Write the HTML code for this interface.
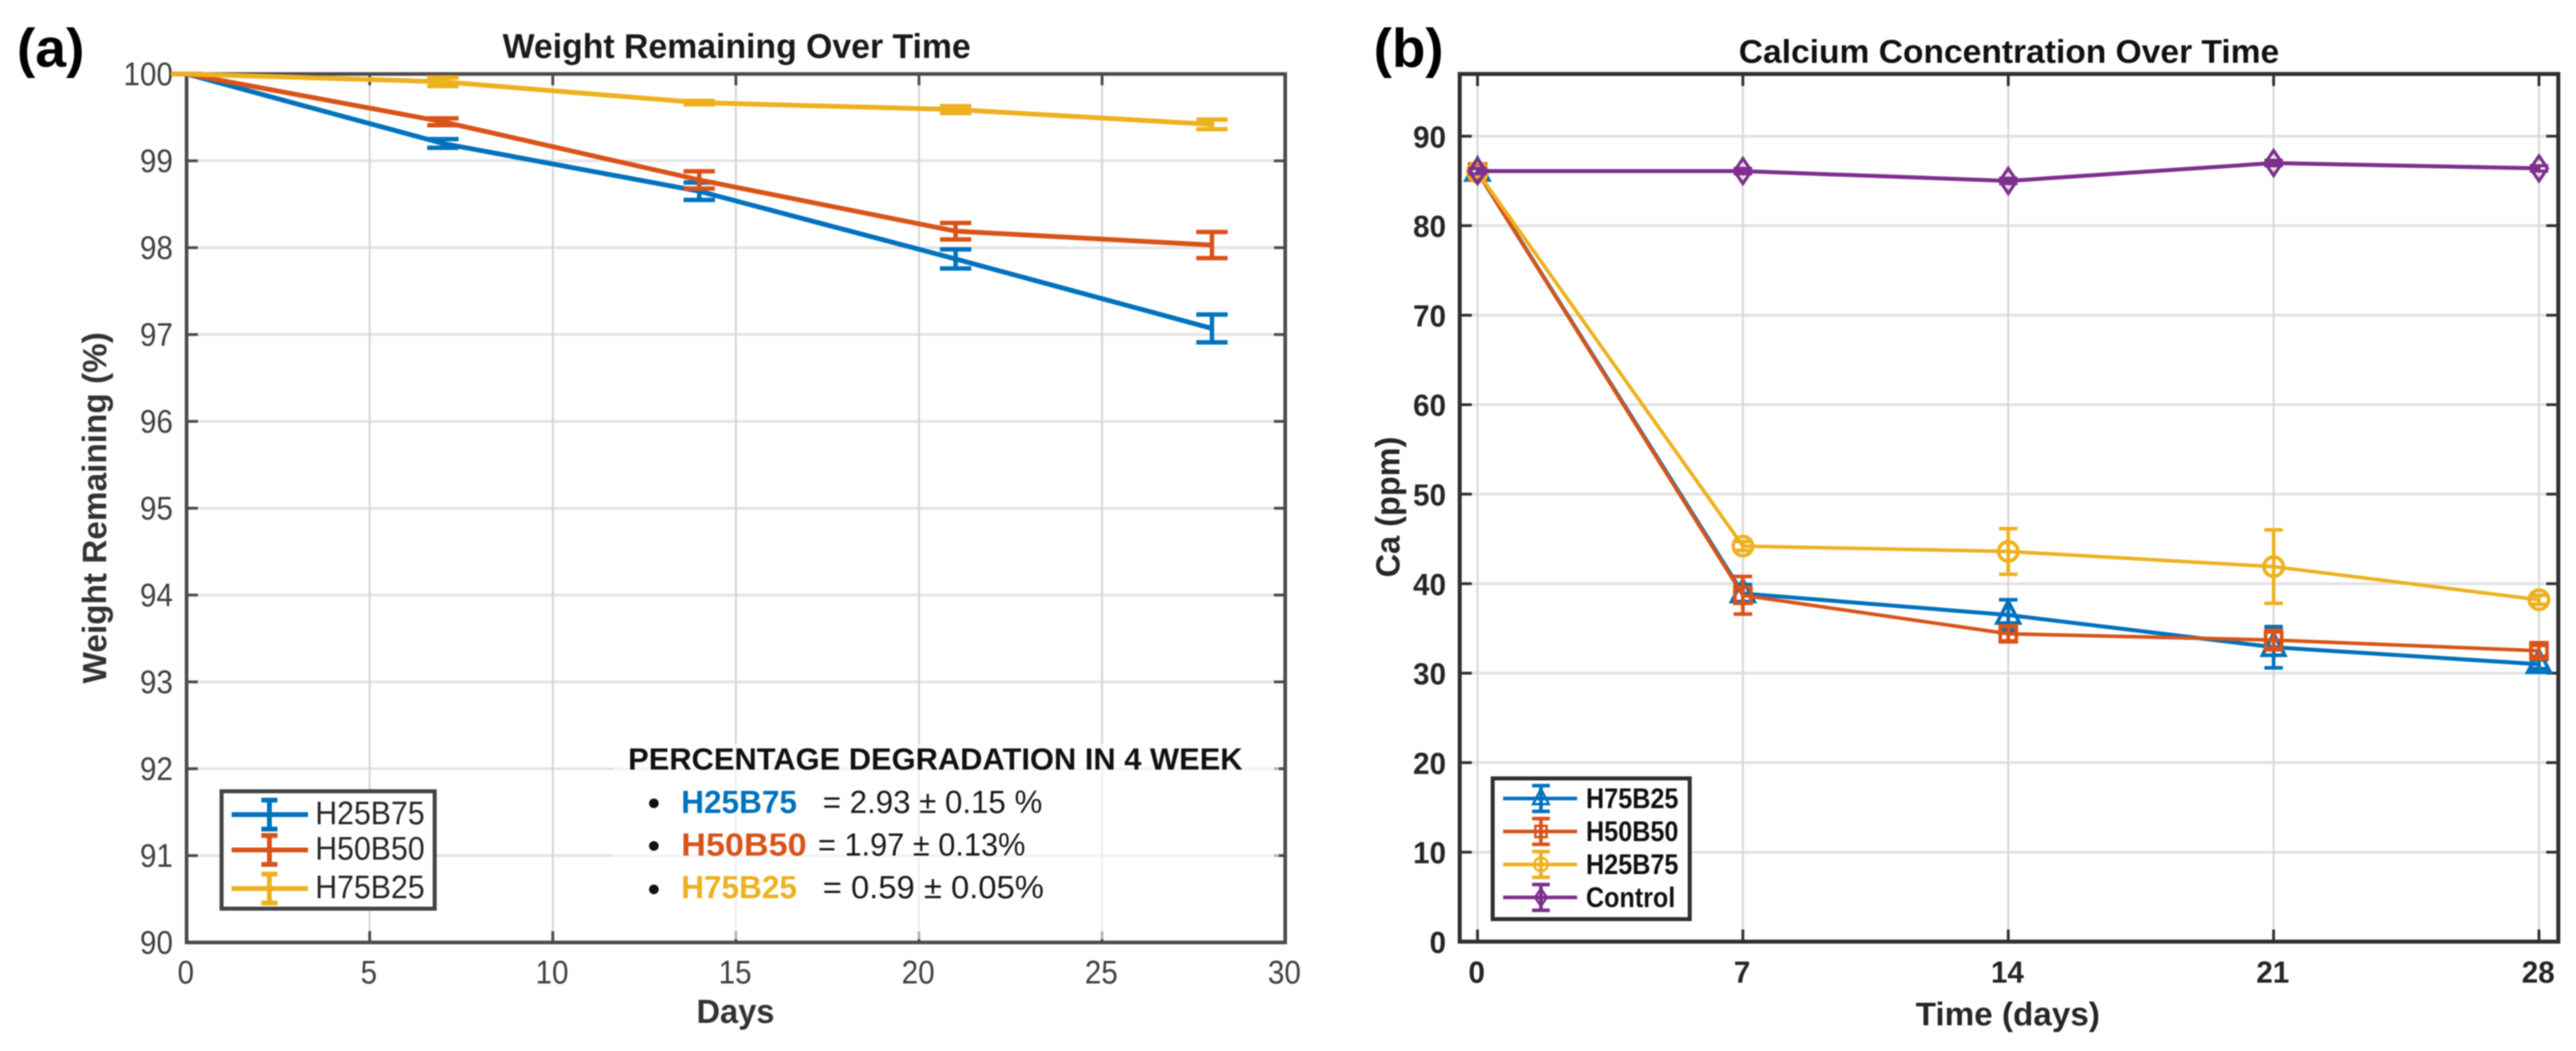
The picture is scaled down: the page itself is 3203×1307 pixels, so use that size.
<!DOCTYPE html>
<html lang="en">
<head>
<meta charset="utf-8">
<title>Weight Remaining and Calcium Concentration Over Time</title>
<style>
html,body{margin:0;padding:0;background:#fff;}
body{width:3203px;height:1307px;overflow:hidden;}
svg{display:block;filter:blur(0.9px);font-family:"Liberation Sans",Arial,sans-serif;}
</style>
</head>
<body>
<svg id="figure" xmlns="http://www.w3.org/2000/svg" width="3203" height="1307" viewBox="0 0 3203 1307">
  <rect width="3203" height="1307" fill="#fff"/>
  <g id="panelA"></g>
  <g id="panelB"></g>

  <text x="21" y="83" font-size="68" font-weight="bold" fill="#000" textLength="84" lengthAdjust="spacingAndGlyphs">(a)</text>
  <text x="1708" y="83" font-size="68" font-weight="bold" fill="#000" textLength="87" lengthAdjust="spacingAndGlyphs">(b)</text>

  <text x="625" y="72" font-size="43" font-weight="bold" fill="#1a1a1a" textLength="582" lengthAdjust="spacingAndGlyphs">Weight Remaining Over Time</text>
  <text x="866" y="1272" font-size="42" font-weight="bold" fill="#333" textLength="97" lengthAdjust="spacingAndGlyphs">Days</text>
  <text transform="translate(132 850) rotate(-90)" font-size="42" font-weight="bold" fill="#333" textLength="437" lengthAdjust="spacingAndGlyphs">Weight Remaining (%)</text>

  <text x="2162" y="78" font-size="41" font-weight="bold" fill="#111" textLength="672" lengthAdjust="spacingAndGlyphs">Calcium Concentration Over Time</text>
  <text x="2382" y="1275" font-size="41" font-weight="bold" fill="#262626" textLength="229" lengthAdjust="spacingAndGlyphs">Time (days)</text>
  <text transform="translate(1740 718) rotate(-90)" font-size="42" font-weight="bold" fill="#262626" textLength="175" lengthAdjust="spacingAndGlyphs">Ca (ppm)</text>

  <g>
    <rect x="763" y="925" width="827" height="243" fill="#fff" fill-opacity="0.6"/>
    <text x="781" y="957" font-size="38" font-weight="bold" fill="#111" textLength="764" lengthAdjust="spacingAndGlyphs">PERCENTAGE DEGRADATION IN 4 WEEK</text>
    <circle cx="813" cy="999" r="6" fill="#111"/>
    <text x="847" y="1011" font-size="40" font-weight="bold" fill="#0072BD" textLength="144" lengthAdjust="spacingAndGlyphs">H25B75</text>
    <text x="1023" y="1011" font-size="40" fill="#1a1a1a" textLength="273" lengthAdjust="spacingAndGlyphs">= 2.93 ± 0.15 %</text>
    <circle cx="813" cy="1052" r="6" fill="#111"/>
    <text x="847" y="1064" font-size="40" font-weight="bold" fill="#D95319" textLength="156" lengthAdjust="spacingAndGlyphs">H50B50</text>
    <text x="1017" y="1064" font-size="40" fill="#1a1a1a" textLength="258" lengthAdjust="spacingAndGlyphs">= 1.97 ± 0.13%</text>
    <circle cx="813" cy="1106" r="6" fill="#111"/>
    <text x="847" y="1117" font-size="40" font-weight="bold" fill="#EDB120" textLength="144" lengthAdjust="spacingAndGlyphs">H75B25</text>
    <text x="1023" y="1117" font-size="40" fill="#1a1a1a" textLength="275" lengthAdjust="spacingAndGlyphs">= 0.59 ± 0.05%</text>
  </g>
</svg>

<script>
// ---------- Panel (a) data ----------
const weightDays = [0, 7, 14, 21, 28];
const weightH25B75 = [100, 99.2, 98.65, 97.87, 97.07];
const weightH25B75Err = [0, 0.05, 0.1, 0.11, 0.16];
const weightH50B50 = [100, 99.45, 98.78, 98.19, 98.03];
const weightH50B50Err = [0, 0.04, 0.1, 0.095, 0.15];
const weightH75B25 = [100, 99.91, 99.67, 99.59, 99.42];
const weightH75B25Err = [0, 0.05, 0.02, 0.04, 0.055];
const weightXTicks = [0, 5, 10, 15, 20, 25, 30];
const weightYTicks = [90, 91, 92, 93, 94, 95, 96, 97, 98, 99, 100];
const weightXRange = [0, 30];
const weightYRange = [90, 100];
const weightLegend = ['H25B75', 'H50B50', 'H75B25'];

// ---------- Panel (b) data ----------
const calciumDays = [0, 7, 14, 21, 28];
const calciumH75B25 = [86, 38.9, 36.5, 32.9, 31];
const calciumH75B25Err = [0.4, 1, 1.7, 2.3, 0.5];
const calciumH50B50 = [86, 38.7, 34.4, 33.7, 32.5];
const calciumH50B50Err = [0.4, 2.1, 0.8, 1.1, 0.6];
const calciumH25B75 = [86, 44.2, 43.6, 41.9, 38.2];
const calciumH25B75Err = [0.4, 0.5, 2.55, 4.1, 0.5];
const calciumControl = [86.1, 86.1, 85, 87, 86.4];
const calciumControlErr = [0.3, 0.3, 0.3, 0.3, 0.3];
const calciumXTicks = [0, 7, 14, 21, 28];
const calciumYTicks = [0, 10, 20, 30, 40, 50, 60, 70, 80, 90];
const calciumXRange = [-0.47, 28.51];
const calciumYRange = [0, 96.95];
const calciumLegend = ['H75B25', 'H50B50', 'H25B75', 'Control'];

const BLUE = '#0072BD', ORANGE = '#D95319', YELLOW = '#EDB120', PURPLE = '#7E2F8E';
const NS = 'http://www.w3.org/2000/svg';

function mk(parent, tag, props, text) {
  const el = document.createElementNS(NS, tag);
  for (const k in props) el.setAttribute(k, props[k]);
  if (text !== undefined) el.textContent = text;
  parent.appendChild(el);
  return el;
}
function scale(domain, range) {
  return v => range[0] + (v - domain[0]) * (range[1] - range[0]) / (domain[1] - domain[0]);
}
function pts(xs, ys, xf, yf) {
  return xs.map((d, i) => xf(d) + ',' + yf(ys[i])).join(' ');
}

// Axis functions
const xA = scale(weightXRange, [232, 1598]);
const yA = scale(weightYRange, [1172, 92]);
const xB = scale(calciumXRange, [1815, 3181]);
const yB = scale(calciumYRange, [1171, 92]);

function drawMarker(g, kind, cx, cy, color, sw, k, nm) {
  const base = {fill: 'none', stroke: color, 'stroke-width': sw};
  let m;
  if (kind === 'triangle') {
    m = mk(g, 'polygon', Object.assign({points: `${cx},${cy - 17 * k} ${cx + 14 * k},${cy + 10 * k} ${cx - 14 * k},${cy + 10 * k}`}, base));
  } else if (kind === 'square') {
    m = mk(g, 'rect', Object.assign({x: cx - 10 * k, y: cy - 10 * k, width: 20 * k, height: 20 * k}, base));
  } else if (kind === 'circle') {
    m = mk(g, 'circle', Object.assign({cx: cx, cy: cy, r: 12 * k}, base));
  } else if (kind === 'diamond') {
    m = mk(g, 'polygon', Object.assign({points: `${cx},${cy - 15.5 * k} ${cx + 10.5 * k},${cy} ${cx},${cy + 15.5 * k} ${cx - 10.5 * k},${cy}`}, base));
  }
  if (m) {
    
    
  }
}

function drawSeries(root, nm, days, vals, errs, color, xf, yf, lw, capW, capS, marker) {
  const g = mk(root, 'g', {});
  
  
  const line = mk(g, 'polyline', {points: pts(days, vals, xf, yf), fill: 'none', stroke: color, 'stroke-width': lw, 'stroke-linejoin': 'round'});
  
  
  days.forEach((d, i) => {
    const cx = xf(d), t = yf(vals[i] + errs[i]), b = yf(vals[i] - errs[i]);
    const eb = mk(g, 'path', {
      d: `M${cx} ${t}V${b}M${cx - capW / 2} ${t}H${cx + capW / 2}M${cx - capW / 2} ${b}H${cx + capW / 2}`,
      fill: 'none', stroke: color, 'stroke-width': capS
    });
    
    
    if (marker) drawMarker(g, marker, cx, yf(vals[i]), color, capS, 1, 'marker-' + nm + '-day-' + d);
  });
}

function drawAxes(root, prefix, opts) {
  const {xf, yf, xTicks, yTicks, L, R, T, B, gridH, gridV, axisColor, axisW, tickLen, labelFill, labelSize, labelWeight, charW, yRight, xBase} = opts;
  const grid = mk(root, 'g', {});
  
  
  yTicks.forEach(v => {
    if (yf(v) <= T + 1 || yf(v) >= B - 1) return;
    const l = mk(grid, 'line', {x1: L, x2: R, y1: yf(v), y2: yf(v), stroke: gridH, 'stroke-width': 3.5});
    
    
  });
  xTicks.forEach(v => {
    if (xf(v) <= L + 1 || xf(v) >= R - 1) return;
    const l = mk(grid, 'line', {x1: xf(v), x2: xf(v), y1: T, y2: B, stroke: gridV, 'stroke-width': 2.5});
    
    
  });
  const ax = mk(root, 'g', {});
  
  
  const box = mk(ax, 'rect', {x: L, y: T, width: R - L, height: B - T, fill: 'none', stroke: axisColor, 'stroke-width': axisW});
  
  
  yTicks.forEach(v => {
    const y = yf(v);
    const t = mk(ax, 'path', {d: `M${L} ${y}h${tickLen}M${R} ${y}h${-tickLen}`, stroke: axisColor, 'stroke-width': 3.5});
    
    
    const s = String(v);
    const lab = mk(ax, 'text', {x: yRight, y: y + 14, 'text-anchor': 'end', 'font-size': labelSize, 'font-weight': labelWeight, fill: labelFill, textLength: s.length * charW, lengthAdjust: 'spacingAndGlyphs'}, s);
    
    
  });
  xTicks.forEach(v => {
    const x = xf(v);
    const t = mk(ax, 'path', {d: `M${x} ${B}v${-tickLen}M${x} ${T}v${tickLen}`, stroke: axisColor, 'stroke-width': 3.5});
    
    
    const s = String(v);
    const lab = mk(ax, 'text', {x: x - 1, y: xBase, 'text-anchor': 'middle', 'font-size': labelSize, 'font-weight': labelWeight, fill: labelFill, textLength: s.length * charW, lengthAdjust: 'spacingAndGlyphs'}, s);
    
    
  });
}

// ---------- Draw panel (a) ----------
const pA = document.getElementById('panelA');
drawAxes(pA, 'panel-a', {
  xf: xA, yf: yA, xTicks: weightXTicks, yTicks: weightYTicks,
  L: 232, R: 1598, T: 92, B: 1172,
  gridH: '#e4e4e4', gridV: '#d6d6d6', axisColor: '#4a4a4a', axisW: 4.5, tickLen: 14,
  labelFill: '#404040', labelSize: 41, labelWeight: 'normal', charW: 20.5, yRight: 215, xBase: 1223
});
drawSeries(pA, 'h25b75-weight', weightDays, weightH25B75, weightH25B75Err, BLUE, xA, yA, 6, 39, 5.5);
drawSeries(pA, 'h50b50-weight', weightDays, weightH50B50, weightH50B50Err, ORANGE, xA, yA, 6, 39, 5.5);
drawSeries(pA, 'h75b25-weight', weightDays, weightH75B25, weightH75B25Err, YELLOW, xA, yA, 6, 39, 5.5);

const legA = mk(pA, 'g', {});


const legABox = mk(legA, 'rect', {x: 275.5, y: 984, width: 265, height: 146, fill: '#fff', stroke: '#444', 'stroke-width': 5});


const legAColors = [BLUE, ORANGE, YELLOW];
const legARowY = [1013, 1057, 1105];
weightLegend.forEach((name, i) => {
  const e = mk(legA, 'g', {});
  
  
  const y = legARowY[i], c = legAColors[i];
  mk(e, 'path', {d: `M288 ${y}H383M335 ${y - 18}V${y + 18}M325 ${y - 18}H345M325 ${y + 18}H345`, fill: 'none', stroke: c, 'stroke-width': 6});
  mk(e, 'text', {x: 392, y: y + 12, 'font-size': 41, fill: '#262626', textLength: 136, lengthAdjust: 'spacingAndGlyphs'}, name);
});

// ---------- Draw panel (b) ----------
const pB = document.getElementById('panelB');
drawAxes(pB, 'panel-b', {
  xf: xB, yf: yB, xTicks: calciumXTicks, yTicks: calciumYTicks,
  L: 1815, R: 3181, T: 92, B: 1171,
  gridH: '#e2e2e2', gridV: '#d8d8d8', axisColor: '#303030', axisW: 5, tickLen: 15,
  labelFill: '#262626', labelSize: 38, labelWeight: 'bold', charW: 20.5, yRight: 1798, xBase: 1222
});
drawSeries(pB, 'h75b25-calcium', calciumDays, calciumH75B25, calciumH75B25Err, BLUE, xB, yB, 5, 23, 4.5, 'triangle');
drawSeries(pB, 'h50b50-calcium', calciumDays, calciumH50B50, calciumH50B50Err, ORANGE, xB, yB, 4.5, 23, 4.5, 'square');
drawSeries(pB, 'h25b75-calcium', calciumDays, calciumH25B75, calciumH25B75Err, YELLOW, xB, yB, 4.5, 23, 4.5, 'circle');
drawSeries(pB, 'control-calcium', calciumDays, calciumControl, calciumControlErr, PURPLE, xB, yB, 5, 23, 4, 'diamond');

const legB = mk(pB, 'g', {});


const legBBox = mk(legB, 'rect', {x: 1856, y: 968, width: 245, height: 175, fill: '#fff', stroke: '#303030', 'stroke-width': 5});


const legBColors = [BLUE, ORANGE, YELLOW, PURPLE];
const legBMarkers = ['triangle', 'square', 'circle', 'diamond'];
const legBRowY = [993, 1034, 1075, 1116];
const legBWidths = [115, 115, 115, 111];
calciumLegend.forEach((name, i) => {
  const e = mk(legB, 'g', {});
  
  
  const y = legBRowY[i], c = legBColors[i];
  mk(e, 'path', {d: `M1869 ${y}H1961M1916 ${y - 16}V${y + 16}M1905 ${y - 16}H1927M1905 ${y + 16}H1927`, fill: 'none', stroke: c, 'stroke-width': 4.5});
  drawMarker(e, legBMarkers[i], 1916, y, c, 3, 0.7, 'legend-marker-' + name.toLowerCase());
  mk(e, 'text', {x: 1972, y: y + 12, 'font-size': 35, 'font-weight': 'bold', fill: '#111', textLength: legBWidths[i], lengthAdjust: 'spacingAndGlyphs'}, name);
});
</script>
</body>
</html>
